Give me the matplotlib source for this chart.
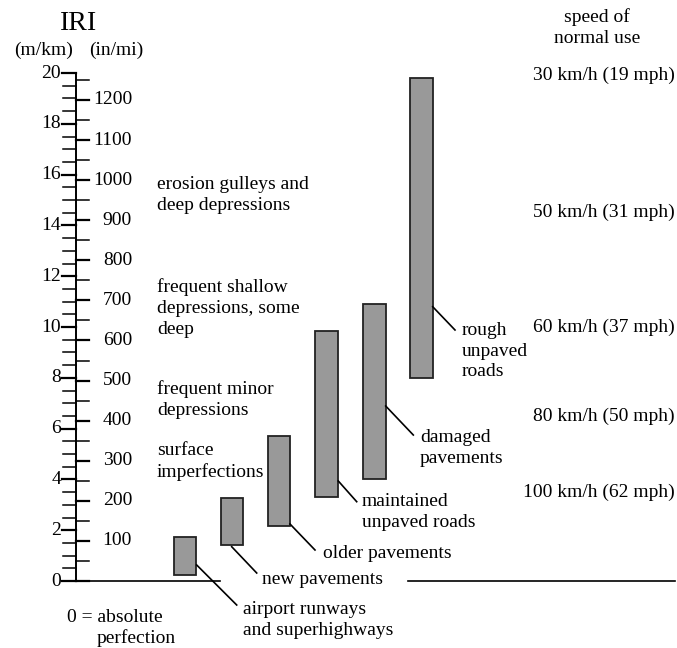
import numpy as np
import matplotlib.pyplot as plt

plt.rcParams['font.family'] = ['Liberation Serif', 'DejaVu Serif']

# data: IRI ranges (m/km) for each road class
road_types = ['airport runways\nand superhighways', 'new pavements', 'older pavements',
              'maintained\nunpaved roads', 'damaged\npavements', 'rough\nunpaved\nroads']
iri_low = [0.25, 1.4, 2.15, 3.3, 4.0, 8.0]
iri_high = [1.75, 3.25, 5.7, 9.85, 10.9, 19.8]

# surface descriptions and where they sit on the IRI scale
descriptions = ['erosion gulleys and\ndeep depressions', 'frequent shallow\ndepressions, some\ndeep',
                'frequent minor\ndepressions', 'surface\nimperfections']
desc_iri = [15.2, 10.75, 7.15, 4.7]

# speed of normal use
speeds = ['30 km/h (19 mph)', '50 km/h (31 mph)', '60 km/h (37 mph)',
          '80 km/h (50 mph)', '100 km/h (62 mph)']
speed_iri = [19.9, 14.5, 10.0, 6.5, 3.5]

mkm_labels = np.arange(0, 21, 2)
inmi_labels = np.arange(100, 1201, 100)
INMI_PER_MKM = 63.36

# layout helpers: work in pixels for x, IRI for y
Y0, SCALE = 581.0, 25.4
def py(p):
    return (Y0 - p) / SCALE

fig = plt.figure(figsize=(6.77, 6.48), dpi=100)
ax = fig.add_axes([0, 0, 1, 1])
ax.set_xlim(0, 677)
ax.set_ylim(py(648), py(0))
ax.axis('off')

FS = 14
LS = 1.3
AX_X = 76

# vertical scale
ax.plot([AX_X, AX_X], [0, 20], color='black', lw=1.4)
for v in np.arange(0, 20.01, 0.5):
    major = v % 2 == 0
    ax.plot([AX_X - (14 if major else 13), AX_X], [v, v], color='black',
            lw=1.6 if major else 1.1)
for v in np.arange(0, 1251, 50):
    ax.plot([AX_X, AX_X + 13], [v / INMI_PER_MKM] * 2, color='black',
            lw=1.6 if v % 100 == 0 else 1.1)
for v in mkm_labels:
    ax.text(61, v, str(v), ha='right', va='center', fontsize=FS)
for v in inmi_labels:
    ax.text(132, v / INMI_PER_MKM, str(v), ha='right', va='center', fontsize=FS)

ax.text(79, py(24), 'IRI', ha='center', va='center', fontsize=20)
ax.text(44, py(50), '(m/km)', ha='center', va='center', fontsize=FS)
ax.text(116, py(50), '(in/mi)', ha='center', va='center', fontsize=FS)

# baseline, broken by the "new pavements" label
ax.plot([AX_X, 220], [0, 0], color='black', lw=1.2)
ax.plot([408, 675], [0, 0], color='black', lw=1.2)

# bars
bar_x = [185, 232, 279, 326.7, 374.3, 421.3]
bar_w = 22.5
for x, lo, hi in zip(bar_x, iri_low, iri_high):
    ax.bar(x, hi - lo, bottom=lo, width=bar_w, color='#999999',
           edgecolor='#222222', linewidth=1.3)

# leader lines and road labels (pixel layout)
leaders = [((196.7, 565), (236.7, 605)), ((231.7, 546.7), (256.7, 573)),
           ((290, 524), (315, 550)), ((338.3, 481), (356.7, 501.7)),
           ((385.7, 406), (413.3, 435)), ((432.7, 306.7), (455, 330))]
label_pos = [(243, 620), (261.7, 579), (323, 553), (361.7, 512), (420, 448), (461.7, 351)]
for name, (p0, p1), (tx, ty) in zip(road_types, leaders, label_pos):
    ax.plot([p0[0], p1[0]], [py(p0[1]), py(p1[1])], color='black', lw=1.2)
    ax.text(tx, py(ty), name, ha='left', va='center', fontsize=FS, linespacing=LS)

for d, v in zip(descriptions, desc_iri):
    ax.text(157, v, d, ha='left', va='center', fontsize=FS, linespacing=LS)

ax.text(597, py(27.5), 'speed of\nnormal use', ha='center', va='center', fontsize=FS,
        linespacing=LS)
for s, v in zip(speeds, speed_iri):
    ax.text(675, v, s, ha='right', va='center', fontsize=FS)

ax.text(67, py(618), '0 = absolute', ha='left', va='center', fontsize=FS)
ax.text(97, py(638), 'perfection', ha='left', va='center', fontsize=FS)

fig.savefig('out.png', dpi=100)
